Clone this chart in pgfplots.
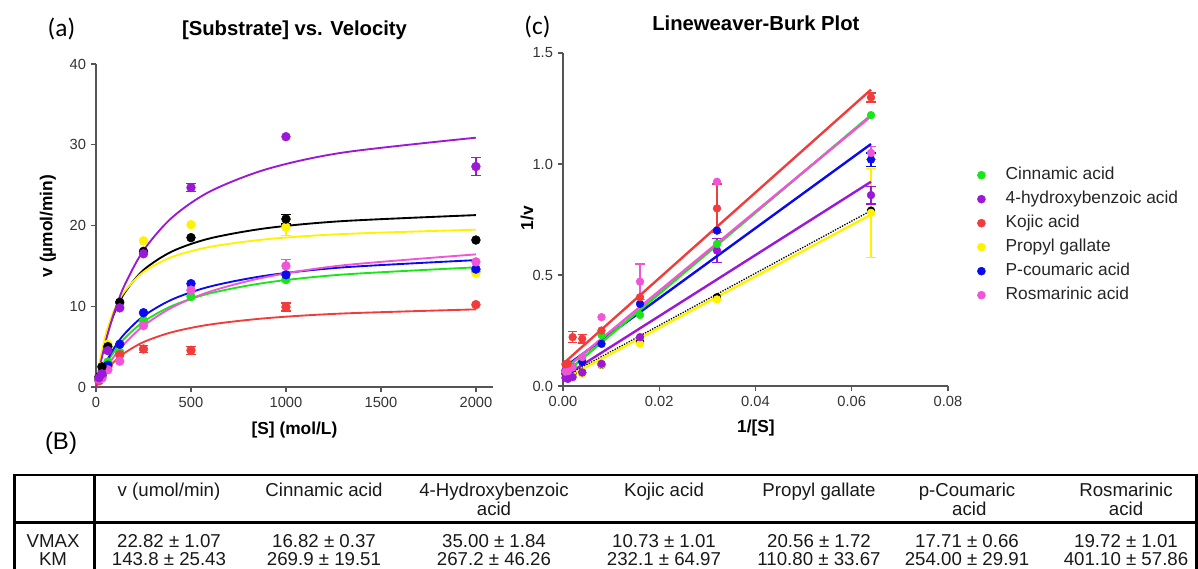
\documentclass[border=0pt]{standalone}
\usepackage{pgfplots}
\pgfplotsset{compat=1.18}
\usepackage{fontspec}
\setmainfont{Liberation Sans}
\newfontfamily\calibri{Carlito}
\definecolor{cgreen}{HTML}{19E619}
\definecolor{cpurple}{HTML}{9B19D6}
\definecolor{cred}{HTML}{F23C3C}
\definecolor{cyellow}{HTML}{FFF200}
\definecolor{cblue}{HTML}{0A0AEE}
\definecolor{cpink}{HTML}{F055D8}
\definecolor{axgray}{HTML}{555555}

\newcommand{\labfont}{\fontsize{13}{15}\selectfont\bfseries}

\pgfplotsset{
  gp/.style={scale only axis, axis lines=left,
    axis line style={-, axgray, line width=1pt},
    tick align=outside, major tick length=4pt,
    tick style={axgray, line width=1pt},
    tick label style={font=\fontsize{11}{13}\selectfont, text=black!80},
    /pgf/number format/assume math mode=true,
    /pgf/number format/1000 sep={},
    clip=false,
    title style={font=\fontsize{15.2}{17}\selectfont\bfseries, anchor=center},
  },
  curve/.style={line width=1.4pt, smooth, no markers},
  ebars/.style={error bars/y dir=both, error bars/y explicit,
    error bars/error bar style={line width=1pt},
    error bars/error mark options={rotate=90, mark size=3.5pt, line width=1pt}},
  dots/.style={only marks, mark=*, mark size=3.3pt, ebars},
  lbline/.style={line width=1.8pt, no markers},
  lbdots/.style={only marks, mark=*, mark size=2.9pt, ebars},
}

\begin{document}
\begin{tikzpicture}
\useasboundingbox (0,0) rectangle (898.5pt,-426pt);

% ---------- (a) Michaelis-Menten ----------
\begin{axis}[gp, at={(72pt,-290.25pt)}, anchor=south west,
  width=297.75pt, height=242.25pt,
  xmin=0, xmax=2090, ymin=0, ymax=40,
  xtick={0,500,1000,1500,2000}, ytick={0,10,20,30,40},
  title={[Substrate] vs. Velocity}, title style={at={(0.5,1.0805)}},
  xlabel={[S] (mol/L)}, ylabel={v (µmol/min)},
  every axis x label/.style={at={(0.5,-0.133)}, anchor=center, font=\labfont},
  every axis y label/.style={at={(-0.121,0.498)}, rotate=90, anchor=center, font=\labfont}]
\addplot[curve, cgreen] coordinates {(0,0)(15,0.886)(30,1.683)(60,3.059)(100,4.547)(150,6.009)(250,8.088)(400,10.043)(600,11.601)(900,12.940)(1300,13.928)(2000,14.820)};
\addplot[curve, cred] coordinates {(0,0)(15,0.651)(30,1.228)(60,2.204)(100,3.231)(150,4.212)(250,5.564)(400,6.790)(600,7.737)(900,8.530)(1300,9.104)(2000,9.614)};
\addplot[curve, cblue] coordinates {(0,0)(15,0.988)(30,1.871)(60,3.384)(100,5.003)(150,6.576)(250,8.785)(400,10.832)(600,12.443)(900,13.812)(1300,14.815)(2000,15.714)};
\addplot[curve, cpink] coordinates {(0,0)(15,0.711)(30,1.372)(60,2.566)(100,3.935)(150,5.367)(250,7.572)(400,9.846)(600,11.819)(900,13.641)(1300,15.070)(2000,16.426)};
\addplot[curve, black] coordinates {(0,0)(15,2.156)(30,3.939)(60,6.718)(100,9.360)(150,11.651)(250,14.487)(400,16.786)(600,18.408)(900,19.676)(1300,20.547)(2000,21.289)};
\addplot[curve, cyellow] coordinates {(0,0)(15,2.452)(30,4.381)(60,7.223)(100,9.753)(150,11.825)(250,14.246)(400,16.100)(600,17.355)(900,18.306)(1300,18.945)(2000,19.481)};
\addplot[curve, cpurple] coordinates {(0,0)(15,1.860)(30,3.533)(60,6.418)(100,9.532)(150,12.584)(250,16.918)(400,20.983)(600,24.216)(900,26.988)(1300,29.033)(2000,30.875)};
% data points
\addplot[dots, cgreen] coordinates {(15.6,0.82)(31.25,1.56)(62.5,3.1)(125,4.3)(250,8.2)(500,11.2)(1000,13.3)(2000,14.3)};
\addplot[dots, cred] coordinates {(15.6,0.77)(31.25,1.25)(62.5,2.5)(125,4.0)(250,4.7)+-(0,0.45)(500,4.55)+-(0,0.5)(1000,9.9)+-(0,0.5)(2000,10.2)};
\addplot[dots, cyellow] coordinates {(15.6,1.28)(31.25,2.56)(62.5,5.3)(125,10.4)(250,18.1)(500,20.1)(1000,19.8)+-(0,1.0)(2000,14.1)};
\addplot[dots, cblue] coordinates {(15.6,0.98)(31.25,1.43)(62.5,2.7)(125,5.3)(250,9.2)(500,12.8)(1000,13.9)(2000,14.6)};
\addplot[dots, cpink] coordinates {(15.6,0.95)(31.25,1.09)(62.5,2.13)(125,3.2)(250,7.6)(500,12.0)(1000,15.0)+-(0,0.8)(2000,15.5)};
\addplot[dots, black] coordinates {(15.6,1.27)(31.25,2.5)(62.5,5.0)(125,10.5)(250,16.8)(500,18.5)(1000,20.8)+-(0,0.6)(2000,18.2)};
\addplot[dots, cpurple] coordinates {(15.6,1.16)(31.25,1.64)(62.5,4.5)(125,9.8)(250,16.5)(500,24.7)+-(0,0.5)(1000,31.0)(2000,27.3)+-(0,1.1)};
\end{axis}

% ---------- (c) Lineweaver-Burk ----------
\begin{axis}[gp, at={(422.25pt,-289.5pt)}, anchor=south west,
  width=288.75pt, height=249.75pt,
  xmin=0, xmax=0.08, ymin=0, ymax=1.5,
  xtick={0,0.02,0.04,0.06,0.08}, ytick={0,0.5,1,1.5},
  scaled x ticks=false, scaled y ticks=false,
  xticklabel style={/pgf/number format/.cd, fixed, fixed zerofill, precision=2},
  yticklabel style={/pgf/number format/.cd, fixed, fixed zerofill, precision=1},
  title={Lineweaver-Burk Plot}, title style={at={(0.501,1.066)}},
  xlabel={1/[S]}, ylabel={1/v},
  every axis x label/.style={at={(0.501,-0.126)}, anchor=center, font=\labfont},
  every axis y label/.style={at={(-0.0935,0.504)}, rotate=90, anchor=center, font=\labfont},
  legend style={at={(1.075,0.659)}, anchor=north west, draw=none, fill=none,
    inner sep=0pt, font=\fontsize{13}{15}\selectfont, text=black!85, row sep=5.5pt,
    nodes={inner sep=0pt, text height=9.5pt, text depth=3pt}},
  legend cell align=left,
  legend image code/.code={\path (-3pt,0) (18pt,0); \draw[#1] plot coordinates {(0pt,0pt)};}]
\addlegendimage{only marks, mark=*, mark size=3pt, cgreen}
\addlegendentry{Cinnamic acid}
\addlegendimage{only marks, mark=*, mark size=3pt, cpurple}
\addlegendentry{4-hydroxybenzoic acid}
\addlegendimage{only marks, mark=*, mark size=3pt, cred}
\addlegendentry{Kojic acid}
\addlegendimage{only marks, mark=*, mark size=3pt, cyellow}
\addlegendentry{Propyl gallate}
\addlegendimage{only marks, mark=*, mark size=3pt, cblue}
\addlegendentry{P-coumaric acid}
\addlegendimage{only marks, mark=*, mark size=3pt, cpink}
\addlegendentry{Rosmarinic acid}
% points
\addplot[lbdots, black, forget plot] coordinates {(0.0005,0.055)(0.001,0.048)(0.002,0.054)(0.004,0.060)(0.008,0.095)(0.016,0.20)(0.032,0.40)(0.064,0.79)};
\addplot[lbdots, cyellow, forget plot] coordinates {(0.0005,0.071)(0.001,0.051)(0.002,0.050)(0.004,0.055)(0.008,0.096)(0.016,0.19)(0.032,0.39)(0.064,0.78)+-(0,0.2)};
\addplot[lbdots, cpurple, forget plot] coordinates {(0.0005,0.037)(0.001,0.032)(0.002,0.040)(0.004,0.061)(0.008,0.10)(0.016,0.22)(0.032,0.61)+-(0,0.055)(0.064,0.86)+-(0,0.04)};
\addplot[lbdots, cgreen, forget plot] coordinates {(0.0005,0.070)(0.001,0.075)(0.002,0.089)(0.004,0.122)(0.008,0.23)(0.016,0.32)(0.032,0.64)(0.064,1.22)};
\addplot[lbdots, cblue, forget plot] coordinates {(0.0005,0.068)(0.001,0.072)(0.002,0.078)(0.004,0.109)(0.008,0.19)(0.016,0.37)(0.032,0.70)(0.064,1.02)+-(0,0.03)};
\addplot[lbdots, cpink, forget plot] coordinates {(0.0005,0.065)(0.001,0.067)(0.002,0.083)(0.004,0.13)(0.008,0.31)(0.016,0.47)+-(0,0.08)(0.032,0.92)(0.064,1.05)+-(0,0.03)};
\addplot[lbdots, cred, forget plot] coordinates {(0.0005,0.098)(0.001,0.101)(0.002,0.22)+-(0,0.025)(0.004,0.213)+-(0,0.02)(0.008,0.25)(0.016,0.40)(0.032,0.80)+-(0,0.11)(0.064,1.30)+-(0,0.02)};
% fitted lines
\addplot[lbline, cpurple, forget plot] coordinates {(0,0.04)(0.064,0.92)};
\addplot[black, line width=1pt, densely dotted, no markers, forget plot] coordinates {(0,0.038)(0.064,0.79)};
\addplot[lbline, cyellow, forget plot] coordinates {(0,0.03)(0.064,0.772)};
\addplot[lbline, cblue, forget plot] coordinates {(0,0.08)(0.064,1.09)};
\addplot[lbline, cgreen, forget plot] coordinates {(0,0.05)(0.064,1.22)};
\addplot[lbline, cpink, forget plot] coordinates {(0,0.07)(0.064,1.215)};
\addplot[lbline, cred, forget plot] coordinates {(0,0.10)(0.064,1.335)};
\end{axis}

% panel labels
\node[font=\calibri\fontsize{19}{21}\selectfont] at (46.1pt,-21.75pt) {(a)};
\node[font=\calibri\fontsize{19}{21}\selectfont] at (403.1pt,-20.6pt) {(c)};
\node[font=\fontsize{18}{20}\selectfont] at (45.75pt,-332.25pt) {(B)};

% ---------- (B) table ----------
\draw[line width=1.5pt] (10.9pt,-356.25pt) -- (897pt,-356.25pt);
\draw[line width=2.25pt] (10.9pt,-355.5pt) -- (10.9pt,-430pt);
\draw[line width=2.25pt] (70.5pt,-355.5pt) -- (70.5pt,-430pt);
\draw[line width=2.25pt] (897pt,-355.5pt) -- (897pt,-430pt);
\draw[line width=2.25pt] (10.9pt,-391.5pt) -- (897pt,-391.5pt);
\begin{scope}[every node/.style={font=\fontsize{14}{16}\selectfont, inner sep=0pt, text height=10pt, text depth=0pt, text=black!90}]
\node at (126.75pt,-367.5pt) {v (umol/min)};
\node at (243pt,-367.5pt) {Cinnamic acid};
\node at (370.5pt,-367.5pt) {4-Hydroxybenzoic};
\node at (370.5pt,-381.75pt) {acid};
\node at (498pt,-367.5pt) {Kojic acid};
\node at (614.25pt,-367.5pt) {Propyl gallate};
\node at (725.25pt,-367.5pt) {p-Coumaric};
\node at (727pt,-381.75pt) {acid};
\node at (844.5pt,-367.5pt) {Rosmarinic};
\node at (844.5pt,-381.75pt) {acid};
\node at (39.75pt,-405.75pt) {VMAX};
\node at (39.75pt,-419.25pt) {KM};
\node at (126.75pt,-405.75pt) {22.82 ± 1.07};
\node at (126.75pt,-419.25pt) {143.8 ± 25.43};
\node at (243pt,-405.75pt) {16.82 ± 0.37};
\node at (243pt,-419.25pt) {269.9 ± 19.51};
\node at (370.5pt,-405.75pt) {35.00 ± 1.84};
\node at (370.5pt,-419.25pt) {267.2 ± 46.26};
\node at (498pt,-405.75pt) {10.73 ± 1.01};
\node at (498pt,-419.25pt) {232.1 ± 64.97};
\node at (614.25pt,-405.75pt) {20.56 ± 1.72};
\node at (614.25pt,-419.25pt) {110.80 ± 33.67};
\node at (725.25pt,-405.75pt) {17.71 ± 0.66};
\node at (725.25pt,-419.25pt) {254.00 ± 29.91};
\node at (844.5pt,-405.75pt) {19.72 ± 1.01};
\node at (844.5pt,-419.25pt) {401.10 ± 57.86};
\end{scope}
\end{tikzpicture}
\end{document}
